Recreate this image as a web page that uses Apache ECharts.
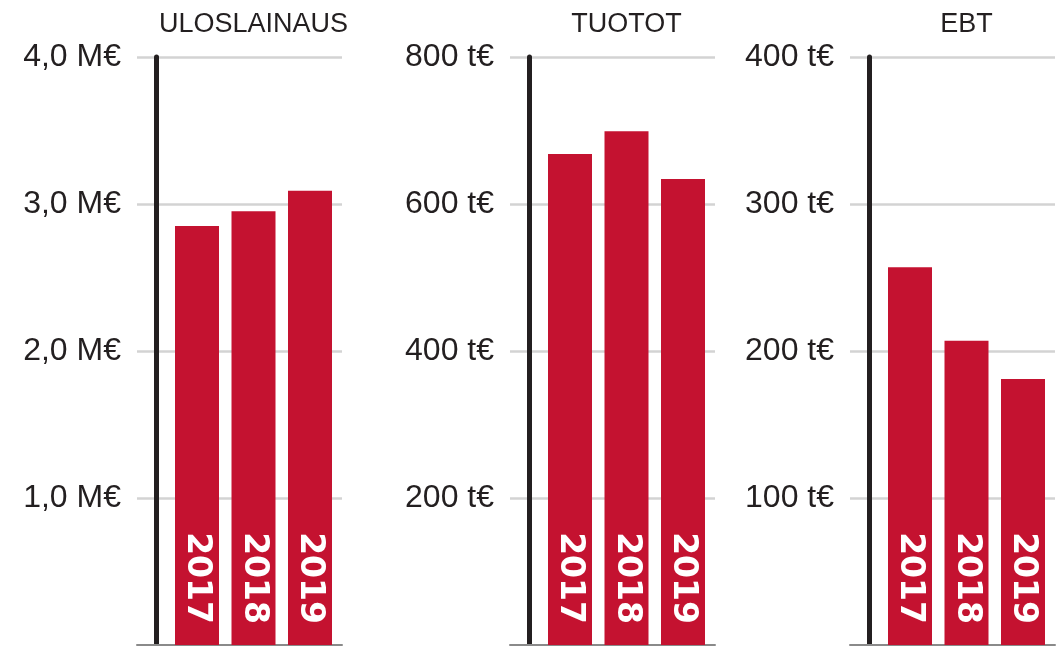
<!DOCTYPE html>
<html>
<head>
<meta charset="utf-8">
<title>Uloslainaus, tuotot, EBT</title>
<script src="https://cdn.jsdelivr.net/npm/echarts@6/dist/echarts.min.js"></script>
<style>
  html, body { margin: 0; padding: 0; background: #fff; }
  #chart { width: 1063px; height: 646px; }
</style>
</head>
<body>
<div id="chart"></div>
<script>
// data
const years = ["2017", "2018", "2019"]
const panelTitles = ["ULOSLAINAUS", "TUOTOT", "EBT"]
const uloslainaus = [2.85, 2.95, 3.09]   // M€
const tuotot = [668, 699, 634]           // t€
const ebt = [257, 207, 181]              // t€
const ticksLoans = ["", "1,0 M€", "2,0 M€", "3,0 M€", "4,0 M€"]
const ticksTuotot = ["", "200 t€", "400 t€", "600 t€", "800 t€"]
const ticksEbt = ["", "100 t€", "200 t€", "300 t€", "400 t€"]

const RED = "#c41230"
const DARK = "#231f20"
const FONT = "'Liberation Sans', Arial, sans-serif"

// one panel = one grid; axisX is where the black vertical axis sits
const panels = [
  { axisX: 156, values: uloslainaus, max: 4, interval: 1, ticks: ticksLoans },
  { axisX: 529, values: tuotot, max: 800, interval: 200, ticks: ticksTuotot },
  { axisX: 869, values: ebt, max: 400, interval: 100, ticks: ticksEbt },
]

const step = 56.5      // px between bar centres
const firstBar = 41    // px from axis line to first bar centre
const leftPad = 19     // gridlines start this far left of axis
const gridW = 205

const chart = echarts.init(document.getElementById("chart"), null, { renderer: "canvas" })

const grid = [], xAxis = [], yAxis = [], series = [], title = []

panels.forEach((p, i) => {
  const left = p.axisX - leftPad
  grid.push({ left: left, width: gridW, top: 57, bottom: 1, containLabel: false })

  const minX = -(firstBar + leftPad) / step
  xAxis.push({
    type: "value",
    gridIndex: i,
    min: minX,
    max: minX + gridW / step,
    axisLine: { show: true, onZero: false, lineStyle: { color: "#8a8a8a", width: 2 } },
    axisTick: { show: false },
    axisLabel: { show: false },
    splitLine: { show: false },
  })

  yAxis.push({
    type: "value",
    gridIndex: i,
    min: 0,
    max: p.max,
    interval: p.interval,
    offset: -leftPad,
    axisLine: { show: true, onZero: false, lineStyle: { color: DARK, width: 5 } },
    axisTick: { show: false },
    axisLabel: {
      margin: 35,
      color: DARK,
      fontFamily: FONT,
      fontSize: 32,
      formatter: (v) => p.ticks[Math.round(v / p.interval)],
    },
    splitLine: { show: true, lineStyle: { color: "#d3d3d3", width: 2.5 } },
  })

  series.push({
    type: "bar",
    xAxisIndex: i,
    yAxisIndex: i,
    barWidth: 44,
    itemStyle: { color: RED },
    data: p.values.map((v, k) => [k, v]),
    label: {
      show: true,
      position: "insideBottom",
      distance: 21,
      rotate: -90,
      align: "right",
      verticalAlign: "middle",
      color: "#fff",
      fontFamily: "'DejaVu Sans', sans-serif",
      fontWeight: "bold",
      fontSize: 33,
      formatter: (d) => years[d.dataIndex],
    },
  })

  title.push({
    text: panelTitles[i],
    left: p.axisX + firstBar + step,
    top: 11,
    textAlign: "center",
    padding: 0,
    textStyle: { color: DARK, fontFamily: FONT, fontWeight: "normal", fontSize: 27 },
  })
})

chart.setOption({
  animation: false,
  title: title,
  grid: grid,
  xAxis: xAxis,
  yAxis: yAxis,
  series: series,
})
</script>
</body>
</html>
